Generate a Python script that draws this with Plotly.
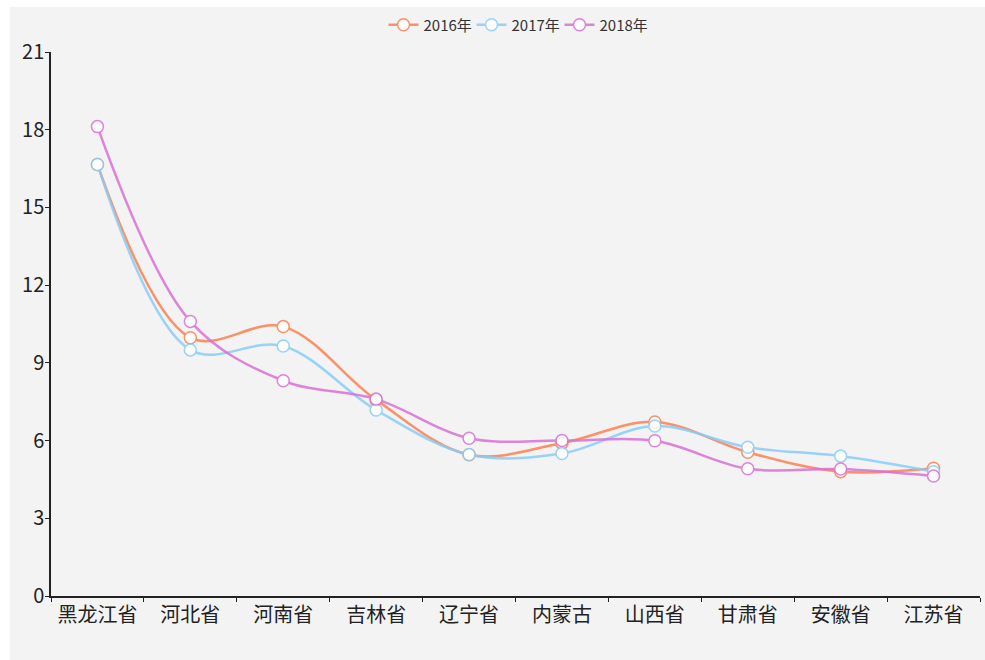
import plotly.graph_objects as go

categories = ["黑龙江省", "河北省", "河南省", "吉林省", "辽宁省", "内蒙古", "山西省", "甘肃省", "安徽省", "江苏省"]
series_names = ["2016年", "2017年", "2018年"]
v2016 = [16.66, 9.97, 10.40, 7.57, 5.45, 5.90, 6.72, 5.55, 4.80, 4.93]
v2017 = [16.66, 9.50, 9.65, 7.18, 5.46, 5.50, 6.56, 5.74, 5.40, 4.80]
v2018 = [18.12, 10.60, 8.31, 7.60, 6.09, 6.00, 5.99, 4.91, 4.90, 4.63]
y_ticks = [0, 3, 6, 9, 12, 15, 18, 21]

colors = ["#ff7f50", "#87cefa", "#da70d6"]
values = [v2016, v2017, v2018]

fig = go.Figure()
for name, vals, c in zip(series_names, values, colors):
    fig.add_trace(go.Scatter(
        x=categories, y=vals, name=name, mode="lines+markers",
        line=dict(color=c, width=2.5, shape="spline", smoothing=1.0),
        marker=dict(symbol="circle", size=12, color="white",
                    line=dict(color=c, width=1.5)),
        opacity=0.85,
    ))

W, H = 985, 660
L, R, T, B = 51, 5, 52, 64
pw, ph = W - L - R, H - T - B
fig.add_shape(type="rect", xref="paper", yref="paper", layer="below",
              x0=(10 - L) / pw, x1=(W + 5 - L) / pw,
              y0=-(B + 5) / ph, y1=(ph + T - 7) / ph,
              fillcolor="#f3f3f3", line=dict(width=0))

fig.update_layout(
    width=W, height=H,
    margin=dict(l=L, r=R, t=T, b=B, autoexpand=False),
    paper_bgcolor="white", plot_bgcolor="rgba(0,0,0,0)",
    font=dict(family="Noto Sans CJK SC, Noto Sans, sans-serif", color="#222"),
    legend=dict(orientation="h", x=0.5, xanchor="center",
                y=(ph + T - 25) / ph, yanchor="middle",
                font=dict(size=15, color="#333"), bgcolor="rgba(0,0,0,0)",
                itemwidth=30, tracegroupgap=0, entrywidth=43),
    showlegend=True,
)
fig.update_xaxes(type="category", range=[-0.5, len(categories) - 0.5],
                 showgrid=False, showline=True, linecolor="#222",
                 linewidth=1.5, ticks="outside", ticklen=4, tickcolor="#222",
                 tickson="boundaries", tickfont=dict(size=20, color="#222"),
                 zeroline=False, automargin=False)
fig.update_yaxes(range=[0, 21], tickvals=y_ticks, showgrid=False, showline=True,
                 linecolor="#222", linewidth=1.5, ticks="outside", ticklen=4,
                 tickcolor="#222", tickfont=dict(size=20, color="#222"),
                 ticklabelstandoff=-3,
                 zeroline=False, automargin=False)

fig.write_html("out.html", config={"displayModeBar": False},
               post_script="document.body.style.margin='0';document.body.style.overflow='hidden';")
